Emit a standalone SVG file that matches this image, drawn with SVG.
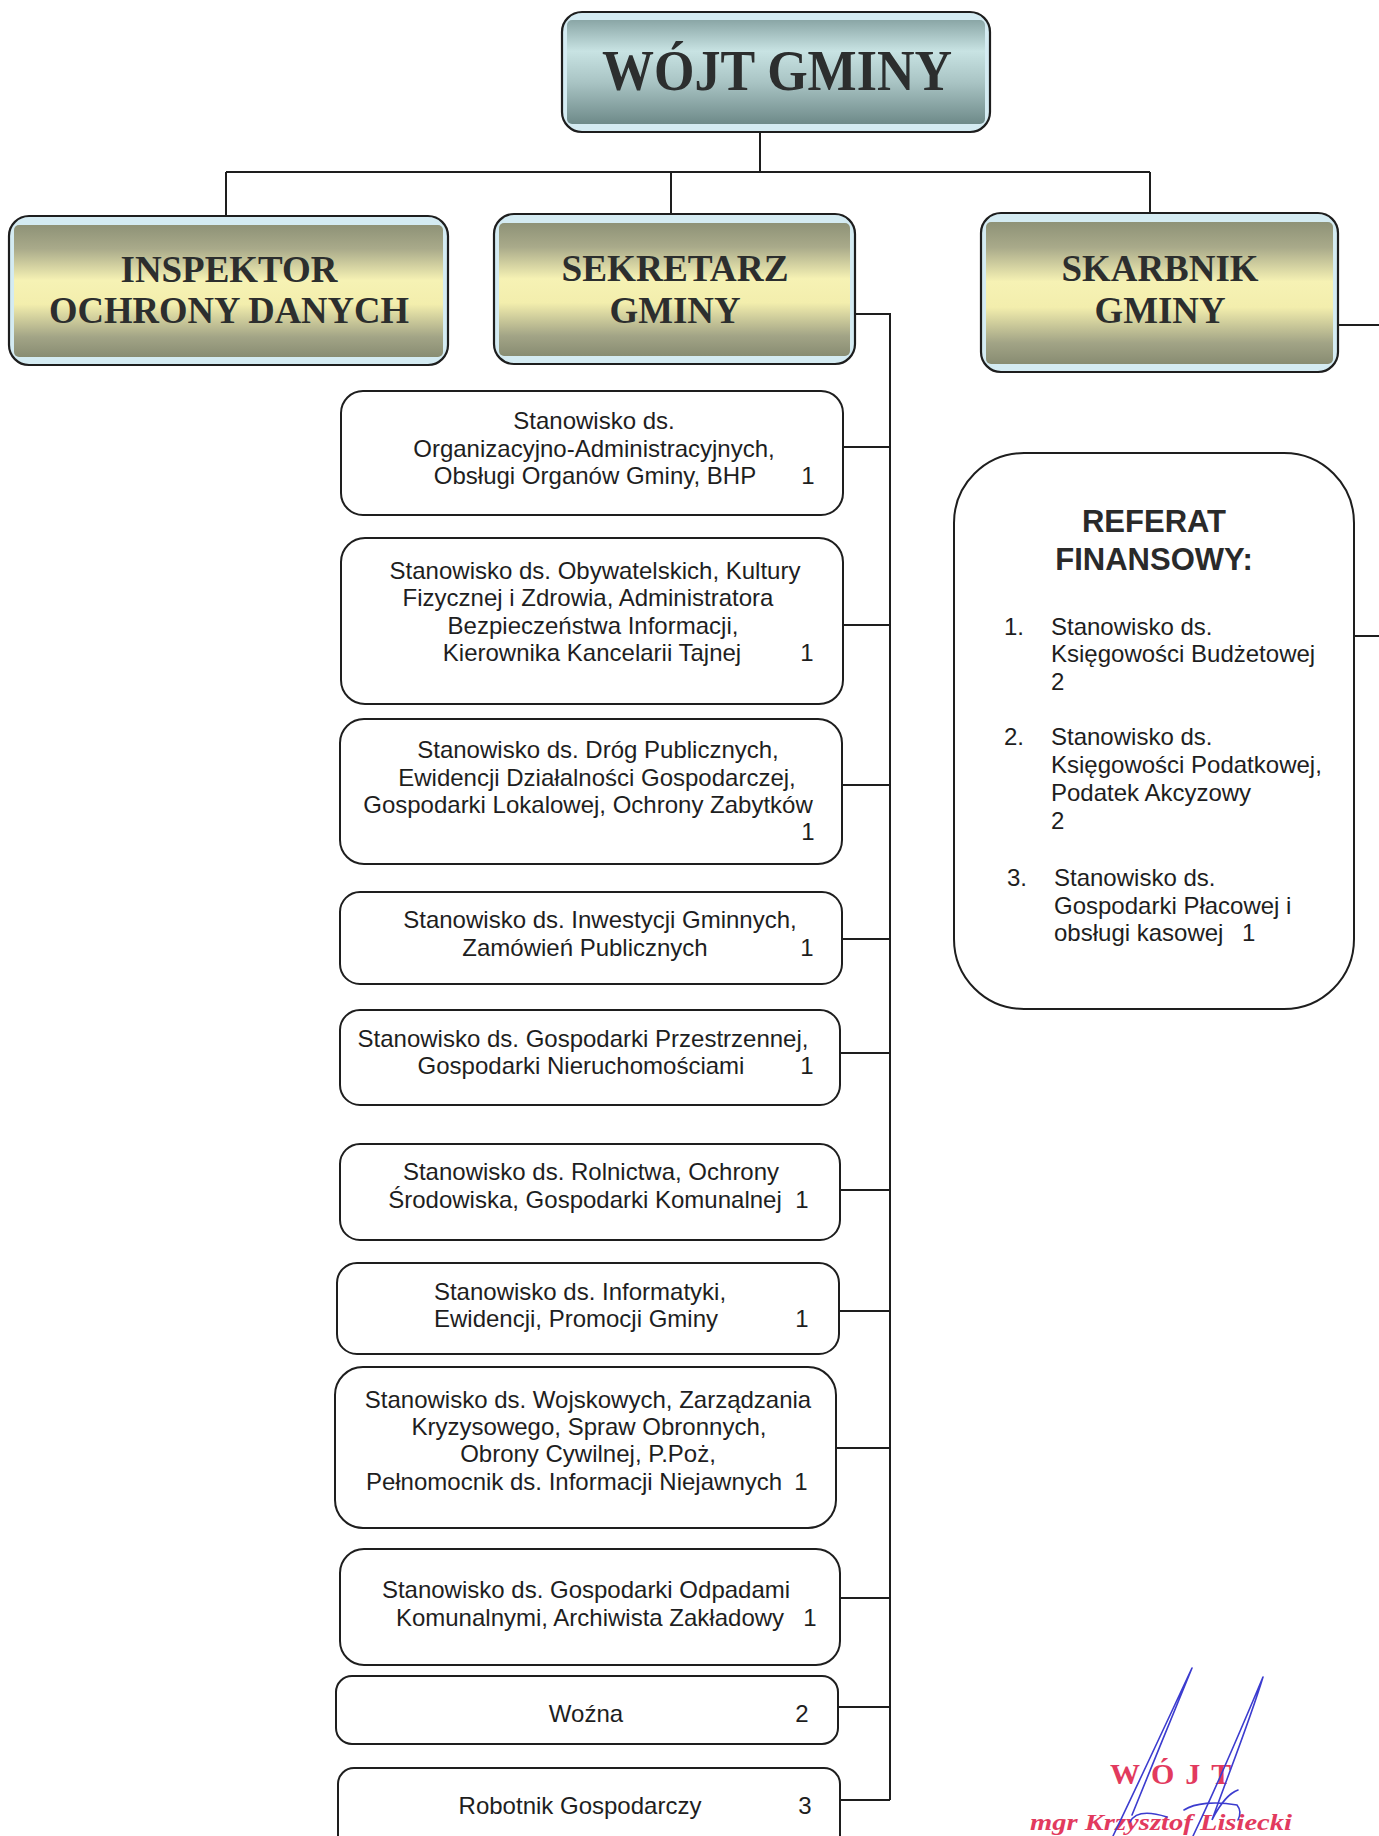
<svg xmlns="http://www.w3.org/2000/svg" width="1379" height="1836" viewBox="0 0 1379 1836">
<defs>
<linearGradient id="gold" x1="0" y1="0" x2="0" y2="1">
<stop offset="0" stop-color="#8e9277"/>
<stop offset="0.18" stop-color="#a9aa8a"/>
<stop offset="0.42" stop-color="#f6f2b4"/>
<stop offset="0.6" stop-color="#f3eead"/>
<stop offset="0.85" stop-color="#a2a486"/>
<stop offset="1" stop-color="#888c72"/>
</linearGradient>
<linearGradient id="teal" x1="0" y1="0" x2="0" y2="1">
<stop offset="0" stop-color="#8aa6a6"/>
<stop offset="0.3" stop-color="#c8e3e3"/>
<stop offset="0.6" stop-color="#a9c4c4"/>
<stop offset="1" stop-color="#6e8a89"/>
</linearGradient>
<style>
.hdr{stroke:#1e1e1e;stroke-width:2.2;fill:#d4ebf2}
.hin{stroke:none}
.ht{font-family:"Liberation Serif","Times New Roman",serif;font-weight:bold;fill:#2c2e2e;text-anchor:middle}
.box{fill:#fff;stroke:#1e1e1e;stroke-width:2}
.t{font-family:"Liberation Sans",Arial,sans-serif;font-size:24px;fill:#1e1e1e;text-anchor:middle}
.n{font-family:"Liberation Sans",Arial,sans-serif;font-size:24px;fill:#1e1e1e;text-anchor:middle}
.l{font-family:"Liberation Sans",Arial,sans-serif;font-size:24px;fill:#1e1e1e}
.c{fill:none;stroke:#1e1e1e;stroke-width:2}
.sig{fill:none;stroke:#3c3ccf;stroke-width:1.6;stroke-linecap:round}
</style>
</defs>

<g id="connectors">
<path class="c" d="M760,132 V172 M226,172 H1150 M226,172 V216 M671,172 V214 M1150,172 V213"/>
<path class="c" d="M855,314 H890 V1800"/>
<path class="c" d="M843,447 H890 M843,625 H890 M842,785 H890 M842,939 H890 M840,1053 H890 M840,1190 H890 M839,1311 H890 M836,1448 H890 M840,1598 H890 M838,1707 H890 M840,1800 H890"/>
<path class="c" d="M1338,325 H1379 M1354,636 H1379"/>
</g>

<g id="wojt">
<rect class="hdr" x="562" y="12" width="428" height="120" rx="20"/>
<rect class="hin" x="567" y="20" width="418" height="104" rx="5" fill="url(#teal)"/>
<text class="ht" x="777" y="90" font-size="58" textLength="350" lengthAdjust="spacingAndGlyphs">WÓJT GMINY</text>
</g>

<g id="inspektor">
<rect class="hdr" x="9" y="216" width="439" height="149" rx="20"/>
<rect class="hin" x="14" y="225" width="429" height="132" rx="5" fill="url(#gold)"/>
<text class="ht" x="229" y="282" font-size="37" textLength="217" lengthAdjust="spacingAndGlyphs">INSPEKTOR</text>
<text class="ht" x="229" y="323" font-size="37" textLength="360" lengthAdjust="spacingAndGlyphs">OCHRONY DANYCH</text>
</g>

<g id="sekretarz">
<rect class="hdr" x="494" y="214" width="361" height="150" rx="20"/>
<rect class="hin" x="499" y="223" width="351" height="133" rx="5" fill="url(#gold)"/>
<text class="ht" x="675" y="281" font-size="37" textLength="227" lengthAdjust="spacingAndGlyphs">SEKRETARZ</text>
<text class="ht" x="675" y="323" font-size="37" textLength="131" lengthAdjust="spacingAndGlyphs">GMINY</text>
</g>

<g id="skarbnik">
<rect class="hdr" x="981" y="213" width="357" height="159" rx="20"/>
<rect class="hin" x="986" y="222" width="347" height="142" rx="5" fill="url(#gold)"/>
<text class="ht" x="1160" y="281" font-size="37" textLength="197" lengthAdjust="spacingAndGlyphs">SKARBNIK</text>
<text class="ht" x="1160" y="323" font-size="37" textLength="131" lengthAdjust="spacingAndGlyphs">GMINY</text>
</g>

<g id="s1">
<rect class="box" x="341" y="391" width="502" height="124" rx="22"/>
<text class="t" x="594" y="429">Stanowisko ds.</text>
<text class="t" x="594" y="457">Organizacyjno-Administracyjnych,</text>
<text class="t" x="595" y="484">Obsługi Organów Gminy, BHP</text>
<text class="n" x="808" y="484">1</text>
</g>

<g id="s2">
<rect class="box" x="341" y="538" width="502" height="166" rx="24"/>
<text class="t" x="595" y="579">Stanowisko ds. Obywatelskich, Kultury</text>
<text class="t" x="588" y="606">Fizycznej i Zdrowia, Administratora</text>
<text class="t" x="593" y="634">Bezpieczeństwa Informacji,</text>
<text class="t" x="592" y="661">Kierownika Kancelarii Tajnej</text>
<text class="n" x="807" y="661">1</text>
</g>

<g id="s3">
<rect class="box" x="340" y="719" width="502" height="145" rx="24"/>
<text class="t" x="598" y="758">Stanowisko ds. Dróg Publicznych,</text>
<text class="t" x="597" y="786">Ewidencji Działalności Gospodarczej,</text>
<text class="t" x="588" y="813">Gospodarki Lokalowej, Ochrony Zabytków</text>
<text class="n" x="808" y="840">1</text>
</g>

<g id="s4">
<rect class="box" x="340" y="892" width="502" height="92" rx="20"/>
<text class="t" x="600" y="928">Stanowisko ds. Inwestycji Gminnych,</text>
<text class="t" x="585" y="956">Zamówień Publicznych</text>
<text class="n" x="807" y="956">1</text>
</g>

<g id="s5">
<rect class="box" x="340" y="1010" width="500" height="95" rx="20"/>
<text class="t" x="583" y="1047">Stanowisko ds. Gospodarki Przestrzennej,</text>
<text class="t" x="581" y="1074">Gospodarki Nieruchomościami</text>
<text class="n" x="807" y="1074">1</text>
</g>

<g id="s6">
<rect class="box" x="340" y="1144" width="500" height="96" rx="20"/>
<text class="t" x="591" y="1180">Stanowisko ds. Rolnictwa, Ochrony</text>
<text class="t" x="585" y="1208">Środowiska, Gospodarki Komunalnej</text>
<text class="n" x="802" y="1208">1</text>
</g>

<g id="s7">
<rect class="box" x="337" y="1263" width="502" height="91" rx="20"/>
<text class="t" x="580" y="1300">Stanowisko ds. Informatyki,</text>
<text class="t" x="576" y="1327">Ewidencji, Promocji Gminy</text>
<text class="n" x="802" y="1327">1</text>
</g>

<g id="s8">
<rect class="box" x="335" y="1367" width="501" height="161" rx="28"/>
<text class="t" x="588" y="1408">Stanowisko ds. Wojskowych, Zarządzania</text>
<text class="t" x="589" y="1435">Kryzysowego, Spraw Obronnych,</text>
<text class="t" x="588" y="1462">Obrony Cywilnej, P.Poż,</text>
<text class="t" x="574" y="1490">Pełnomocnik ds. Informacji Niejawnych</text>
<text class="n" x="801" y="1490">1</text>
</g>

<g id="s9">
<rect class="box" x="340" y="1549" width="500" height="116" rx="24"/>
<text class="t" x="586" y="1598">Stanowisko ds. Gospodarki Odpadami</text>
<text class="t" x="590" y="1626">Komunalnymi, Archiwista Zakładowy</text>
<text class="n" x="810" y="1626">1</text>
</g>

<g id="s10">
<rect class="box" x="336" y="1676" width="502" height="68" rx="16"/>
<text class="t" x="586" y="1722">Woźna</text>
<text class="n" x="802" y="1722">2</text>
</g>

<g id="s11">
<rect class="box" x="338" y="1768" width="502" height="90" rx="16"/>
<text class="t" x="580" y="1814">Robotnik Gospodarczy</text>
<text class="n" x="805" y="1814">3</text>
</g>

<g id="referat">
<rect class="box" x="954" y="453" width="400" height="556" rx="70"/>
<text x="1154" y="532" font-family="Liberation Sans, Arial, sans-serif" font-weight="bold" font-size="31" fill="#2a2a2a" text-anchor="middle">REFERAT</text>
<text x="1154" y="570" font-family="Liberation Sans, Arial, sans-serif" font-weight="bold" font-size="31" fill="#2a2a2a" text-anchor="middle">FINANSOWY:</text>
<text class="l" x="1004" y="635">1.</text>
<text class="l" x="1051" y="635">Stanowisko ds.</text>
<text class="l" x="1051" y="662">Księgowości Budżetowej</text>
<text class="l" x="1051" y="690">2</text>
<text class="l" x="1004" y="745">2.</text>
<text class="l" x="1051" y="745">Stanowisko ds.</text>
<text class="l" x="1051" y="773">Księgowości Podatkowej,</text>
<text class="l" x="1051" y="801">Podatek Akcyzowy</text>
<text class="l" x="1051" y="829">2</text>
<text class="l" x="1007" y="886">3.</text>
<text class="l" x="1054" y="886">Stanowisko ds.</text>
<text class="l" x="1054" y="914">Gospodarki Płacowej i</text>
<text class="l" x="1054" y="941">obsługi kasowej</text>
<text class="l" x="1242" y="941">1</text>
</g>

<g id="podpis">
<text x="1110" y="1784" font-family="Liberation Serif, serif" font-weight="bold" font-size="30" fill="#e23a5e" letter-spacing="11">WÓJT</text>
<text x="1030" y="1830" font-family="Liberation Serif, serif" font-style="italic" font-weight="bold" font-size="24" fill="#e23a5e" textLength="262" lengthAdjust="spacingAndGlyphs">mgr Krzysztof Lisiecki</text>
<path class="sig" d="M1192,1668 C1170,1715 1140,1780 1113,1836 M1192,1668 C1175,1710 1150,1770 1132,1815"/>
<path class="sig" d="M1263,1677 C1245,1720 1215,1790 1193,1836 M1263,1677 C1250,1720 1230,1770 1212,1820 C1222,1800 1232,1792 1238,1790"/>
<path class="sig" d="M1130,1822 C1134,1814 1145,1810 1167,1817 M1184,1810 C1195,1803 1215,1801 1237,1805 C1241,1810 1240,1816 1238,1820"/>
</g>
</svg>
